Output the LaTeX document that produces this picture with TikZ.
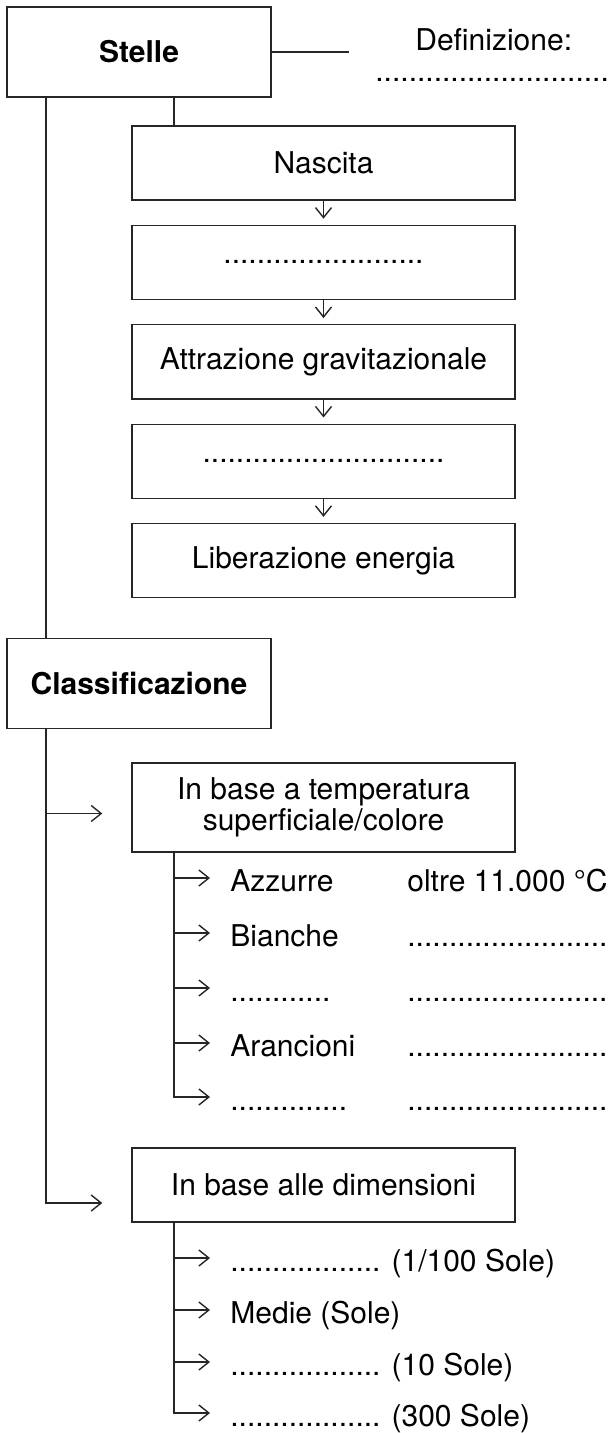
\documentclass[tikz,border=0pt]{standalone}
\usepackage{fontspec}
\setmainfont{TeX Gyre Heros}
\usetikzlibrary{arrows.meta, positioning}
\tikzstyle{topic} = [rectangle, minimum width=132pt, minimum height=45pt, text centered, draw=black!85, line width=0.7pt, font=\bfseries\fontsize{15}{16}\selectfont]
\tikzstyle{stage} = [rectangle, minimum width=191.5pt, minimum height=37pt, text centered, draw=black!85, line width=0.7pt]
\tikzstyle{item} = [anchor=west, inner sep=0pt, text height=14pt, text depth=1pt]
\tikzstyle{link} = [line width=0.7pt, draw=black!85]
\tikzstyle{arrow} = [link, -{Straight Barb[length=5pt, width=8pt]}]

\begin{document}
\begin{tikzpicture}[x=0.5pt, y=-0.5pt, node distance=12pt, font=\fontsize{15}{14}\selectfont]
\useasboundingbox (0,0) rectangle (615,1433);
\coordinate (trunk) at (46,0);
\coordinate (spine) at (174,0);

% Stelle + definizione
\node (stelle) [topic] at (139,52) {Stelle};
\coordinate (defend) at (349,52);
\node (def) [anchor=base west, inner sep=0pt] at (415,51) {Definizione:};
\node (defdots) [anchor=base west, inner sep=0pt] at (375,82) {............................};

% ciclo di vita
\node (nascita) [stage] at (323.5,163) {Nascita};
\node (fase2) [stage, below=of nascita] {........................};
\node (attraz) [stage, below=of fase2] {Attrazione gravitazionale};
\node (fase4) [stage, below=of attraz] {.............................};
\node (liberaz) [stage, below=of fase4] {Liberazione energia};

% classificazione
\node (classif) [topic] at (139,683.5) {Classificazione};
\node (tempbox) [stage, minimum height=44.5pt, align=center] at (323.5,807.5) {In base a temperatura\\superficiale/colore};
\node (dimbox) [stage] at (323.5,1185) {In base alle dimensioni};

% colori
\node (t1) [item] at (230,878) {Azzurre};
\node (t1v) [item] at (407,878) {oltre 11.000 °C};
\node (t2) [item] at (230,933) {Bianche};
\node (t2v) [item] at (407,933) {........................};
\node (t3) [item] at (230,988) {............};
\node (t3v) [item] at (407,988) {........................};
\node (t4) [item] at (230,1043) {Arancioni};
\node (t4v) [item] at (407,1043) {........................};
\node (t5) [item] at (230,1097) {..............};
\node (t5v) [item] at (407,1097) {........................};

% dimensioni
\node (d1) [item] at (230,1258) {.................. (1/100 Sole)};
\node (d2) [item] at (230,1310) {Medie (Sole)};
\node (d3) [item] at (230,1362) {.................. (10 Sole)};
\node (d4) [item] at (230,1413) {.................. (300 Sole)};

% Arrows
\draw [link] (stelle.east) -- (defend);
\draw [link] (stelle.south -| spine) -- (nascita.north -| spine);
\draw [arrow, shorten >=3pt] (nascita) -- (fase2);
\draw [arrow, shorten >=3pt] (fase2) -- (attraz);
\draw [arrow, shorten >=3pt] (attraz) -- (fase4);
\draw [arrow, shorten >=3pt] (fase4) -- (liberaz);

\draw [link] (stelle.south -| trunk) -- (classif.north -| trunk);
\draw [arrow, shorten >=14.5pt] (classif.south -| trunk) |- ([yshift=-3pt]tempbox.west);
\draw [arrow, shorten >=14.5pt] (classif.south -| trunk) |- ([yshift=-9pt]dimbox.west);

\draw [arrow, shorten >=10pt] (tempbox.south -| spine) |- (t1.west);
\draw [arrow, shorten >=10pt] (tempbox.south -| spine) |- (t2.west);
\draw [arrow, shorten >=10pt] (tempbox.south -| spine) |- (t3.west);
\draw [arrow, shorten >=10pt] (tempbox.south -| spine) |- (t4.west);
\draw [arrow, shorten >=10pt] (tempbox.south -| spine) |- (t5.west);

\draw [arrow, shorten >=10pt] (dimbox.south -| spine) |- (d1.west);
\draw [arrow, shorten >=10pt] (dimbox.south -| spine) |- (d2.west);
\draw [arrow, shorten >=10pt] (dimbox.south -| spine) |- (d3.west);
\draw [arrow, shorten >=10pt] (dimbox.south -| spine) |- (d4.west);

\end{tikzpicture}
\end{document}
